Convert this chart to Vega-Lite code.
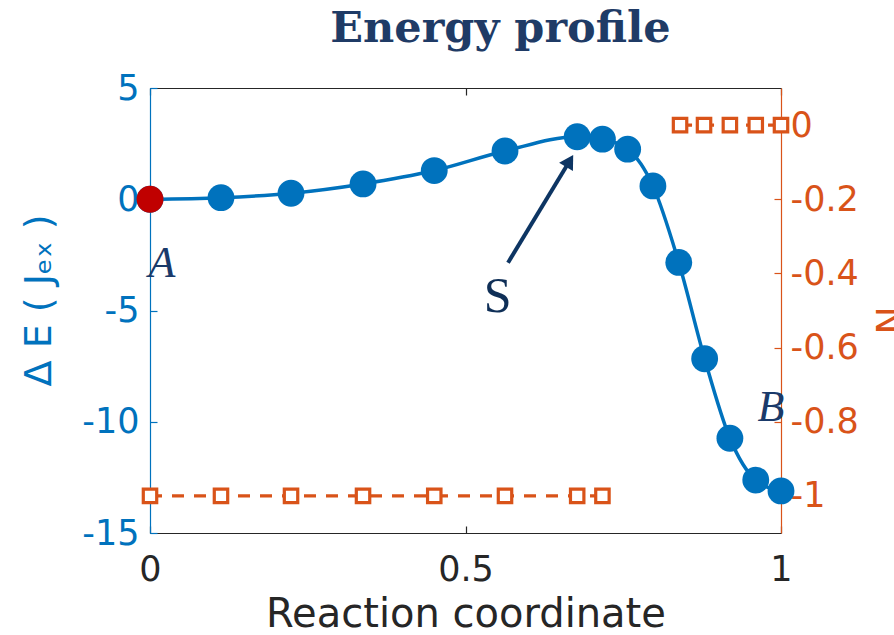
{
  "$schema": "https://vega.github.io/schema/vega-lite/v6.json",
  "width": 631,
  "height": 445,
  "autosize": {"type": "none"},
  "padding": {"left": 150, "top": 88, "right": 113, "bottom": 102},
  "background": "white",
  "config": {
    "view": {"stroke": null},
    "axis": {"grid": false, "labelFont": "DejaVu Sans", "titleFont": "DejaVu Sans", "labelFontSize": 35, "titleFontSize": 38, "titleFontWeight": "normal", "domainWidth": 1.2, "tickWidth": 1.2, "tickSize": -7, "labelFlush": false}
  },
  "title": {"text": "Energy profile", "font": "DejaVu Serif", "fontWeight": "bold", "fontSize": 43, "color": "#1F3B66", "anchor": "middle", "frame": "group", "baseline": "alphabetic", "offset": -14, "dx": 35},
  "datasets": {
    "energy": [
      {"rc": 0.0, "dE": 0.0},
      {"rc": 0.1125, "dE": 0.07},
      {"rc": 0.2235, "dE": 0.27},
      {"rc": 0.3376, "dE": 0.69},
      {"rc": 0.4505, "dE": 1.29},
      {"rc": 0.5626, "dE": 2.17},
      {"rc": 0.677, "dE": 2.81},
      {"rc": 0.717, "dE": 2.70},
      {"rc": 0.757, "dE": 2.25},
      {"rc": 0.797, "dE": 0.60},
      {"rc": 0.838, "dE": -2.84},
      {"rc": 0.879, "dE": -7.17},
      {"rc": 0.919, "dE": -10.74},
      {"rc": 0.960, "dE": -12.62},
      {"rc": 1.0, "dE": -13.11}
    ],
    "start": [{"rc": 0.0, "dE": 0.0}],
    "occupation": [
      {"rc": 0.0, "N": -1, "grp": "a"},
      {"rc": 0.1125, "N": -1, "grp": "a"},
      {"rc": 0.2235, "N": -1, "grp": "a"},
      {"rc": 0.3376, "N": -1, "grp": "a"},
      {"rc": 0.4505, "N": -1, "grp": "a"},
      {"rc": 0.5626, "N": -1, "grp": "a"},
      {"rc": 0.677, "N": -1, "grp": "a"},
      {"rc": 0.717, "N": -1, "grp": "a"},
      {"rc": 0.840, "N": 0, "grp": "b"},
      {"rc": 0.878, "N": 0, "grp": "b"},
      {"rc": 0.919, "N": 0, "grp": "b"},
      {"rc": 0.960, "N": 0, "grp": "b"},
      {"rc": 1.0, "N": 0, "grp": "b"}
    ],
    "arrow": [{"x0": 0.5674, "y0": -2.85, "x1": 0.665, "y1": 1.72}],
    "labelsItalic": [
      {"rc": 0.019, "dE": -3.49, "txt": "A"},
      {"rc": 0.984, "dE": -9.97, "txt": "B"}
    ],
    "labelsUpright": [
      {"rc": 0.551, "dE": -5.07, "txt": "S"}
    ]
  },
  "layer": [
    {
      "data": {"name": "occupation"},
      "encoding": {
        "x": {"field": "rc", "type": "quantitative", "scale": {"domain": [0, 1], "nice": false, "zero": false},
              "axis": {"orient": "top", "labels": false, "title": null, "values": [0, 0.5, 1], "domainColor": "#262626", "tickColor": "#262626"}},
        "y": {"field": "N", "type": "quantitative", "scale": {"domain": [-1.1, 0.1], "nice": false, "zero": false},
              "axis": {"orient": "right", "values": [0, -0.2, -0.4, -0.6, -0.8, -1], "labelExpr": "replace(format(datum.value,'~g'),'\u2212','-')",
                       "labelColor": "#D95319", "domainColor": "#D95319", "tickColor": "#D95319", "labelPadding": 16,
                       "title": "N", "titleColor": "#D95319", "titleAngle": 90, "titleBaseline": "alphabetic", "titleAlign": "center", "titleX": 94, "titleY": 232}}
      },
      "layer": [
        {"mark": {"type": "line", "color": "#D95319", "strokeWidth": 3.2, "strokeDash": [12, 10]}, "encoding": {"detail": {"field": "grp"}}},
        {"mark": {"type": "point", "shape": "square", "filled": true, "fill": "white", "stroke": "#D95319", "strokeWidth": 3.2, "size": 180, "opacity": 1}}
      ]
    },
    {
      "layer": [
        {
          "data": {"name": "energy"},
          "mark": {"type": "line", "color": "#0072BD", "strokeWidth": 3.5, "interpolate": "monotone"},
          "encoding": {
            "x": {"field": "rc", "type": "quantitative", "scale": {"domain": [0, 1], "nice": false, "zero": false},
                  "axis": {"orient": "bottom", "values": [0, 0.5, 1], "format": "~g", "labelColor": "#262626", "domainColor": "#262626", "tickColor": "#262626", "labelPadding": 26,
                           "title": "Reaction coordinate", "titleFontSize": 40, "titleColor": "#262626", "titleBaseline": "alphabetic", "titleY": 93}},
            "y": {"field": "dE", "type": "quantitative", "scale": {"domain": [-15, 5], "nice": false, "zero": false},
                  "axis": {"orient": "left", "values": [5, 0, -5, -10, -15], "labelExpr": "replace(format(datum.value,'~g'),'\u2212','-')",
                           "labelColor": "#0072BD", "domainColor": "#0072BD", "tickColor": "#0072BD", "labelPadding": 18,
                           "title": "Δ E ( Jₑₓ )", "titleColor": "#0072BD", "titleAngle": -90, "titleBaseline": "alphabetic", "titleAlign": "center", "titleX": -100, "titleY": 212}}
          }
        },
        {
          "data": {"name": "energy"},
          "mark": {"type": "circle", "color": "#0072BD", "size": 720, "opacity": 1},
          "encoding": {
            "x": {"field": "rc", "type": "quantitative", "scale": {"domain": [0, 1], "nice": false, "zero": false}},
            "y": {"field": "dE", "type": "quantitative", "scale": {"domain": [-15, 5], "nice": false, "zero": false}}
          }
        },
        {
          "data": {"name": "start"},
          "mark": {"type": "circle", "color": "#C00000", "size": 720, "opacity": 1},
          "encoding": {
            "x": {"field": "rc", "type": "quantitative"},
            "y": {"field": "dE", "type": "quantitative"}
          }
        },
        {
          "data": {"name": "arrow"},
          "mark": {"type": "rule", "color": "#0D3563", "strokeWidth": 4},
          "encoding": {
            "x": {"field": "x0", "type": "quantitative"},
            "y": {"field": "y0", "type": "quantitative"},
            "x2": {"field": "x1"},
            "y2": {"field": "y1"}
          }
        },
        {
          "data": {"name": "arrow"},
          "mark": {"type": "point", "shape": "triangle-up", "filled": true, "color": "#0D3563", "size": 260, "angle": 31, "opacity": 1},
          "encoding": {
            "x": {"field": "x1", "type": "quantitative"},
            "y": {"field": "y1", "type": "quantitative"}
          }
        },
        {
          "data": {"name": "labelsItalic"},
          "mark": {"type": "text", "font": "Liberation Serif", "fontStyle": "italic", "fontSize": 44, "color": "#1A3A6A", "align": "center", "baseline": "alphabetic"},
          "encoding": {
            "x": {"field": "rc", "type": "quantitative"},
            "y": {"field": "dE", "type": "quantitative"},
            "text": {"field": "txt"}
          }
        },
        {
          "data": {"name": "labelsUpright"},
          "mark": {"type": "text", "font": "Liberation Serif", "fontSize": 50, "color": "#0F2F57", "align": "center", "baseline": "alphabetic"},
          "encoding": {
            "x": {"field": "rc", "type": "quantitative"},
            "y": {"field": "dE", "type": "quantitative"},
            "text": {"field": "txt"}
          }
        }
      ]
    }
  ],
  "resolve": {"scale": {"y": "independent"}}
}
